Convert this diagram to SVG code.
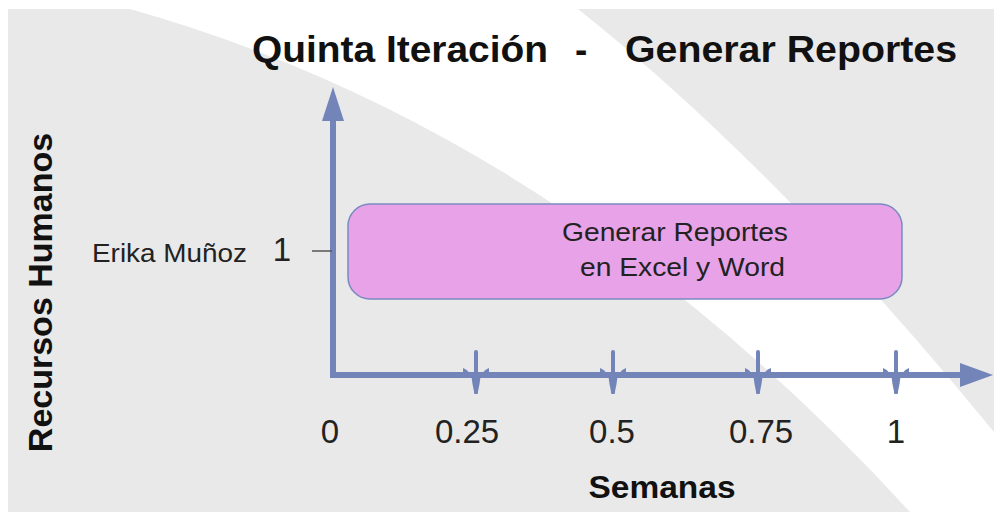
<svg xmlns="http://www.w3.org/2000/svg" width="994" height="513" viewBox="0 0 994 513">
  <defs>
    <style>
      .axis { stroke: #7384b9; stroke-width: 6; fill: none; }
      .arrow { fill: #7384b9; }
      .tickline { stroke: #7384b9; stroke-width: 4; stroke-linecap: round; }
      .tickdrop { fill: #7384b9; }
      .lbl { font-family: "Liberation Sans", Arial, sans-serif; fill: #222; }
      .bold { font-weight: bold; fill: #111; }
    </style>
  </defs>
  <rect x="0" y="0" width="994" height="513" fill="#ffffff"/>
  <g id="background">
    <rect x="8" y="9" width="986" height="503" fill="#e9e9e9"/>
    <path d="M130,9 Q560,130 910,512 L994,512 L994,432 Q780,170 578,9 Z" fill="#ffffff"/>
  </g>
  <g id="title">
    <text class="lbl bold" x="252" y="62" font-size="37" textLength="296" lengthAdjust="spacingAndGlyphs">Quinta Iteración</text>
    <text class="lbl bold" x="575" y="62" font-size="37">-</text>
    <text class="lbl bold" x="625" y="62" font-size="37" textLength="332" lengthAdjust="spacingAndGlyphs">Generar Reportes</text>
  </g>
  <g id="y-label">
    <text class="lbl bold" transform="translate(52,292.5) rotate(-90)" text-anchor="middle" font-size="34">Recursos Humanos</text>
  </g>
  <g id="connectors">
    <line class="axis" x1="333" y1="118" x2="333" y2="378"/>
    <polygon class="arrow" points="333,87 322,121 344,121"/>
    <line class="axis" x1="330" y1="375" x2="962" y2="375"/>
    <polygon class="arrow" points="993,375 960,363 960,387"/>
    <g id="ticks">
      <g transform="translate(476,0)">
        <line class="tickline" x1="0" y1="352" x2="0" y2="392"/>
        <path class="tickdrop" d="M-13,368 Q-4,371 -3.5,384 L-1.5,394 L1.5,394 L3.5,384 Q4,371 13,368 L13,372 L-13,372 Z"/>
      </g>
      <g transform="translate(613,0)">
        <line class="tickline" x1="0" y1="352" x2="0" y2="392"/>
        <path class="tickdrop" d="M-13,368 Q-4,371 -3.5,384 L-1.5,394 L1.5,394 L3.5,384 Q4,371 13,368 L13,372 L-13,372 Z"/>
      </g>
      <g transform="translate(758,0)">
        <line class="tickline" x1="0" y1="352" x2="0" y2="392"/>
        <path class="tickdrop" d="M-13,368 Q-4,371 -3.5,384 L-1.5,394 L1.5,394 L3.5,384 Q4,371 13,368 L13,372 L-13,372 Z"/>
      </g>
      <g transform="translate(896,0)">
        <line class="tickline" x1="0" y1="352" x2="0" y2="392"/>
        <path class="tickdrop" d="M-13,368 Q-4,371 -3.5,384 L-1.5,394 L1.5,394 L3.5,384 Q4,371 13,368 L13,372 L-13,372 Z"/>
      </g>
    </g>
    <line x1="312" y1="251" x2="332" y2="251" stroke="#555" stroke-width="1.5"/>
  </g>
  <g id="y-ticks">
    <text class="lbl" x="92" y="262" font-size="26" textLength="155" lengthAdjust="spacingAndGlyphs">Erika Muñoz</text>
    <text class="lbl" x="282" y="261" font-size="33" text-anchor="middle">1</text>
  </g>
  <g id="x-ticks">
    <text class="lbl" x="330" y="443" font-size="33" text-anchor="middle">0</text>
    <text class="lbl" x="467" y="443" font-size="33" text-anchor="middle">0.25</text>
    <text class="lbl" x="612" y="443" font-size="33" text-anchor="middle">0.5</text>
    <text class="lbl" x="761" y="443" font-size="33" text-anchor="middle">0.75</text>
    <text class="lbl" x="896" y="443" font-size="33" text-anchor="middle">1</text>
  </g>
  <g id="x-label">
    <text class="lbl bold" x="662" y="498" font-size="32" text-anchor="middle" textLength="147" lengthAdjust="spacingAndGlyphs">Semanas</text>
  </g>
  <g id="task-node">
    <rect x="348" y="204" width="554" height="95" rx="22" ry="22" fill="#e8a3e8" stroke="#7a8ac0" stroke-width="1.5"/>
    <text class="lbl" x="562" y="241" font-size="25" textLength="226" lengthAdjust="spacingAndGlyphs" fill="#333">Generar Reportes</text>
    <text class="lbl" x="580" y="276" font-size="25" textLength="205" lengthAdjust="spacingAndGlyphs" fill="#333">en Excel y Word</text>
  </g>
</svg>
